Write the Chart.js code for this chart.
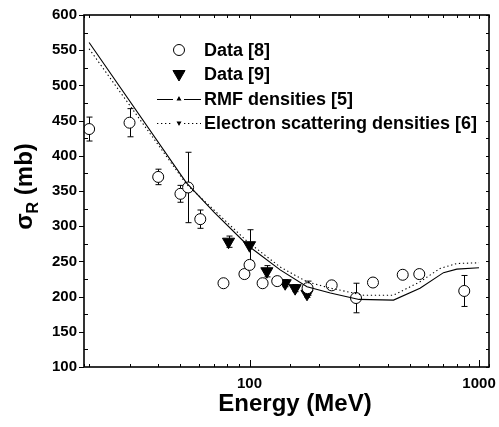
<!DOCTYPE html>
<html>
<head>
<meta charset="utf-8">
<script src="https://cdn.jsdelivr.net/npm/chart.js@4.4.0/dist/chart.umd.min.js"></script>
<style>
  html, body { margin: 0; padding: 0; background: #fff; }
  canvas { display: block; }
</style>
</head>
<body>
<canvas id="chart" width="499" height="427"></canvas>
<script>
// Data [8] : open circles (energy MeV, sigma_R mb, error)
const data8Energy = [20, 30, 40, 50, 54, 61, 77, 95, 100, 114, 132, 179, 228, 291, 345, 465, 549, 862];
const data8Sigma  = [438, 447, 370, 346, 355, 310, 219, 232, 245, 219, 222, 212, 216, 198, 220, 231, 232, 208];
const data8Error  = [17, 20, 11, 12, 50, 13, 0, 0, 0, 0, 0, 10, 3, 21, 3, 3, 3, 22];

// Data [9] : filled down triangles
const data9Energy = [81, 100, 119, 143, 158, 178];
const data9Sigma  = [278, 273, 236, 219, 212, 204];
const data9Error  = [8, 22, 8, 5, 5, 5];

// RMF densities [5] : solid line
const rmfEnergy = [20, 53, 70, 98, 136, 178, 225, 300, 424, 553, 700, 800, 1000];
const rmfSigma  = [561, 362, 320, 273, 238, 214, 205, 196, 195, 212, 234, 239, 241];

// Electron scattering densities [6] : dotted line
const elecEnergy = [20, 53, 70, 98, 136, 178, 225, 314, 424, 553, 676, 800, 1000];
const elecSigma  = [552, 360, 323, 278, 242, 221, 212, 202, 202, 221, 240, 247, 248];

const FONT = '"Liberation Sans", Arial, Helvetica, sans-serif';
const zip = (xs, ys) => xs.map((x, i) => ({ x: x, y: ys[i] }));

const errorBars = {
  id: 'errorBars',
  beforeDatasetsDraw(chart) {
    const { ctx, scales: { x, y } } = chart;
    ctx.save();
    ctx.strokeStyle = '#000';
    ctx.lineWidth = 1;
    chart.data.datasets.forEach(ds => {
      if (!ds.errors) return;
      ds.data.forEach((p, i) => {
        const e = ds.errors[i];
        if (!e) return;
        const px = Math.round(x.getPixelForValue(p.x)) + 0.5;
        const top = y.getPixelForValue(p.y + e);
        const bot = y.getPixelForValue(p.y - e);
        ctx.beginPath();
        ctx.moveTo(px, top); ctx.lineTo(px, bot);
        ctx.moveTo(px - 3, top); ctx.lineTo(px + 3, top);
        ctx.moveTo(px - 3, bot); ctx.lineTo(px + 3, bot);
        ctx.stroke();
      });
    });
    ctx.restore();
  }
};

const frame = {
  id: 'frame',
  afterDatasetsDraw(chart) {
    const { ctx, chartArea: a, scales: { x, y } } = chart;
    ctx.save();
    ctx.strokeStyle = '#000';
    ctx.lineWidth = 1;
    ctx.beginPath();
    // y: majors from the scale, minors halfway between
    const yt = y.ticks.map(t => t.value);
    const step = yt[1] - yt[0];
    yt.forEach(v => {
      [v, v + step / 2].forEach((w, k) => {
        if (w > y.max) return;
        const py = Math.round(y.getPixelForValue(w)) + 0.5;
        if (k === 0) { ctx.moveTo(a.left - 5, py); ctx.lineTo(a.left, py); }
        else { ctx.moveTo(a.left, py); ctx.lineTo(a.left + 4, py); }
        ctx.moveTo(a.right, py); ctx.lineTo(a.right - 3, py);
      });
    });
    // x: log ticks
    x.ticks.forEach(t => {
      const v = t.value;
      if (v < x.min || v > x.max) return;
      const major = Math.abs(Math.log10(v) - Math.round(Math.log10(v))) < 1e-9;
      const px = Math.round(x.getPixelForValue(v)) + 0.5;
      ctx.moveTo(px, a.bottom); ctx.lineTo(px, a.bottom - (major ? 7 : 3));
      ctx.moveTo(px, a.top); ctx.lineTo(px, a.top + (major ? 4 : 3));
    });
    ctx.stroke();
    ctx.lineWidth = 1.6;
    ctx.strokeRect(a.left, a.top, a.right - a.left, a.bottom - a.top);
    ctx.restore();
  }
};

const legendBox = {
  id: 'legendBox',
  afterDraw(chart) {
    const { ctx } = chart;
    const ds = chart.data.datasets;
    const rows = [50, 74, 99, 123];
    const symX = 179, x0 = 157, x1 = 201, textX = 204;
    ctx.save();
    ctx.fillStyle = '#000';
    ctx.strokeStyle = '#000';
    ds.forEach((d, i) => {
      const ry = rows[i];
      if (d.type === 'line') {
        ctx.lineWidth = d.borderWidth;
        ctx.setLineDash(d.borderDash || []);
        ctx.beginPath();
        ctx.moveTo(x0, ry + 0.5); ctx.lineTo(symX - 6, ry + 0.5);
        ctx.moveTo(symX + 5, ry + 0.5); ctx.lineTo(x1, ry + 0.5);
        ctx.stroke();
        ctx.setLineDash([]);
        Chart.helpers.drawPoint(ctx, { pointStyle: 'triangle', rotation: d.legendRot, radius: 1.8, borderWidth: 1 }, symX, ry);
        ctx.fill();
      } else {
        ctx.lineWidth = d.borderWidth;
        ctx.fillStyle = d.backgroundColor;
        Chart.helpers.drawPoint(ctx, { pointStyle: d.pointStyle, rotation: d.rotation || 0, radius: d.pointRadius, borderWidth: d.borderWidth }, symX, ry);
        ctx.fillStyle = '#000';
      }
      ctx.font = 'bold 18px ' + FONT;
      ctx.textBaseline = 'middle';
      ctx.textAlign = 'left';
      ctx.fillText(d.label, textX, ry + 1);
    });
    ctx.restore();
  }
};

const titles = {
  id: 'titles',
  afterDraw(chart) {
    const { ctx } = chart;
    ctx.save();
    ctx.fillStyle = '#000';
    ctx.textBaseline = 'alphabetic';
    // x title
    ctx.font = 'bold 24px ' + FONT;
    ctx.textAlign = 'center';
    ctx.fillText('Energy (MeV)', 295, 411);
    // y title with subscript
    ctx.textAlign = 'left';
    const big = 'bold 24px ' + FONT, small = 'bold 16px ' + FONT;
    ctx.font = big; const w1 = ctx.measureText('σ').width;
    ctx.font = small; const w2 = ctx.measureText('R').width;
    ctx.font = big; const w3 = ctx.measureText(' (mb)').width;
    const total = w1 + w2 + w3;
    ctx.translate(32, 186.5);
    ctx.rotate(-Math.PI / 2);
    let cx = -total / 2;
    ctx.font = big; ctx.fillText('σ', cx, 0); cx += w1;
    ctx.font = small; ctx.fillText('R', cx, 6); cx += w2;
    ctx.font = big; ctx.fillText(' (mb)', cx, 0);
    ctx.restore();
  }
};

new Chart(document.getElementById('chart'), {
  type: 'scatter',
  data: {
    datasets: [
      {
        label: 'Data [8]',
        data: zip(data8Energy, data8Sigma),
        errors: data8Error,
        pointStyle: 'circle',
        pointRadius: 5.5,
        backgroundColor: '#fff',
        borderColor: '#000',
        borderWidth: 1,
        order: 1
      },
      {
        label: 'Data [9]',
        data: zip(data9Energy, data9Sigma),
        errors: data9Error,
        pointStyle: 'triangle',
        rotation: 180,
        pointRadius: 7,
        backgroundColor: '#000',
        borderColor: '#000',
        borderWidth: 1,
        order: 1
      },
      {
        type: 'line',
        label: 'RMF densities [5]',
        data: zip(rmfEnergy, rmfSigma),
        borderColor: '#000',
        borderWidth: 1.1,
        pointRadius: 0,
        fill: false,
        tension: 0,
        legendRot: 0,
        order: 0
      },
      {
        type: 'line',
        label: 'Electron scattering densities [6]',
        data: zip(elecEnergy, elecSigma),
        borderColor: '#000',
        borderWidth: 1.1,
        borderDash: [1.3, 2.7],
        pointRadius: 0,
        fill: false,
        tension: 0,
        legendRot: 180,
        order: 0
      }
    ]
  },
  options: {
    responsive: false,
    animation: false,
    devicePixelRatio: 1,
    layout: { padding: { left: 0, right: 10, top: 15, bottom: 0 } },
    plugins: { legend: { display: false }, tooltip: { enabled: false } },
    scales: {
      x: {
        type: 'logarithmic',
        min: 19,
        max: 1105,
        border: { display: false },
        grid: { display: false, drawTicks: false },
        ticks: {
          autoSkip: false,
          maxRotation: 0,
          padding: 8,
          color: '#000',
          font: { family: FONT, size: 15, weight: 'bold' },
          callback: v => (v === 100 || v === 1000) ? String(v) : ''
        },
        afterFit: s => { s.height = 60; s.paddingLeft = 0; s.paddingRight = 0; }
      },
      y: {
        min: 100,
        max: 600,
        border: { display: false },
        grid: { display: false, drawTicks: false },
        ticks: {
          stepSize: 50,
          padding: 7,
          color: '#000',
          font: { family: FONT, size: 15, weight: 'bold' }
        },
        afterFit: s => { s.width = 84; s.paddingTop = 0; s.paddingBottom = 0; }
      }
    }
  },
  plugins: [errorBars, frame, legendBox, titles]
});
</script>
</body>
</html>
